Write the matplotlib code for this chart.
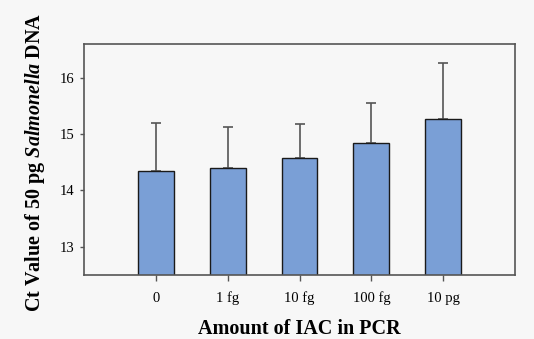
import numpy as np
import matplotlib.pyplot as plt

plt.rcParams['font.family'] = ['Liberation Serif', 'DejaVu Serif']
plt.rcParams['mathtext.fontset'] = 'custom'
plt.rcParams['mathtext.rm'] = 'Liberation Serif:bold'
plt.rcParams['mathtext.it'] = 'Liberation Serif:italic:bold'

# data
labels = ["0", "1 fg", "10 fg", "100 fg", "10 pg"]
ct_mean = [14.35, 14.40, 14.57, 14.84, 15.26]
ct_sd = [0.85, 0.72, 0.61, 0.71, 1.01]

bg = "#f7f7f7"
fig = plt.figure(figsize=(5.34, 3.39), dpi=100, facecolor=bg)
ax = fig.add_axes([84 / 534, 1 - 275 / 339, 431 / 534, 231 / 339], facecolor=bg)

x = np.arange(len(labels))
ax.bar(x, ct_mean, width=0.5, color="#7a9fd6", edgecolor="#1a1a1a", linewidth=1.0, zorder=2)
ax.errorbar(x, ct_mean, yerr=[np.zeros(len(x)), ct_sd], fmt="none", ecolor="#555555",
            elinewidth=1.2, capsize=3.5, capthick=1.2, zorder=1)

ax.set_xlim(-1, 5)
ax.set_ylim(12.5, 16.6)
ax.set_xticks(x)
ax.set_xticklabels(labels)
ax.set_yticks([13, 14, 15, 16])
ax.tick_params(axis="both", labelsize=10.5, color="#555555", width=1.0)
ax.tick_params(axis="y", length=3, pad=4)
ax.tick_params(axis="x", length=4, pad=8)
for s in ax.spines.values():
    s.set_color("#555555")
    s.set_linewidth(1.2)

ax.set_xlabel("Amount of IAC in PCR", fontsize=14.5, fontweight="bold", labelpad=10)
fig.text(35 / 534, 1 - 162 / 339, r"Ct Value of 50 pg $Salmonella$ DNA", rotation=90,
         fontsize=14.5, fontweight="bold", ha="center", va="center")

fig.savefig("out.png", dpi=100, facecolor=bg)
